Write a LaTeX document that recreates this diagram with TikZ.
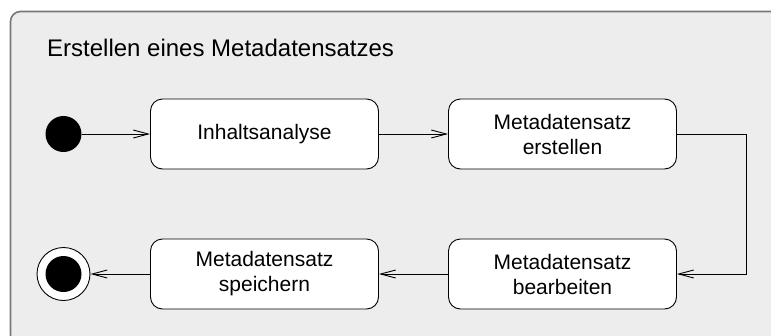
\documentclass[tikz,border=0pt]{standalone}
\usepackage{fontspec}
\setmainfont{Liberation Sans}
\usetikzlibrary{arrows.meta}
\definecolor{panel}{HTML}{EDEDED}
\definecolor{panelborder}{HTML}{777777}
\begin{document}
\begin{tikzpicture}[x=1pt,y=-1pt,
  actbox/.style={draw=black,fill=white,line width=0.9pt,rounded corners=12pt,
    minimum width=228pt,minimum height=70pt,inner sep=0pt,align=center,
    font=\fontsize{21}{25}\selectfont},
  flow/.style={draw=black,line width=0.9pt,-{Straight Barb[length=15pt,width=8pt,line width=0.9pt]}}]
\useasboundingbox (0,0) rectangle (771,335);
\clip (0,0) rectangle (771,335);
\path[fill=panel,draw=panelborder,line width=1.6pt,rounded corners=10pt]
  (10.5,345) -- (10.5,11.5) -- (790,11.5) -- (790,345) -- cycle;
\node[anchor=base west,font=\fontsize{24}{28}\selectfont,inner sep=0pt] (title) at (47,56) {Erstellen eines Metadatensatzes};
\node[circle,fill=black,minimum size=36pt,inner sep=0pt] (start) at (63.5,134) {};
\node[actbox] (b1) at (264.5,134) {Inhaltsanalyse};
\node[actbox] (b2) at (562.5,134) {Metadatensatz\\erstellen};
\node[actbox] (b3) at (562.5,274) {Metadatensatz\\bearbeiten};
\node[actbox] (b4) at (264.5,274) {Metadatensatz\\speichern};
\node[circle,draw=black,fill=white,line width=0.9pt,minimum size=53pt,inner sep=0pt] (end) at (63.5,274) {};
\node[circle,fill=black,minimum size=36pt,inner sep=0pt] (endin) at (end.center) {};
\coordinate (turn) at (746.5,134);
\draw[flow] (start) -- (b1);
\draw[flow] (b1) -- (b2);
\draw[flow] (b2.east) -- (turn) |- (b3.east);
\draw[flow] (b3) -- (b4);
\draw[flow] (b4) -- (end);
\end{tikzpicture}
\end{document}
